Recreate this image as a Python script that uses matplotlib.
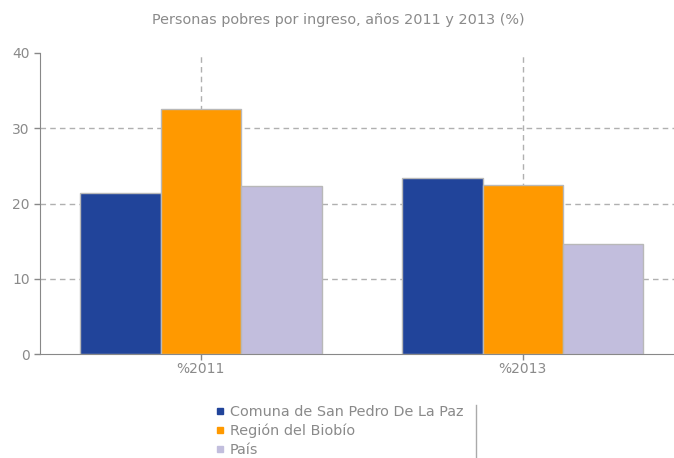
import numpy as np
import matplotlib.pyplot as plt
from matplotlib.lines import Line2D

# data
categories = ["%2011", "%2013"]
series = ["Comuna de San Pedro De La Paz", "Región del Biobío", "País"]
comuna = [21.4, 23.4]
region = [32.5, 22.4]
pais = [22.3, 14.6]
colors = ["#21449A", "#FF9900", "#C2BEDD"]
yticks = [0, 10, 20, 30, 40]

txt = "#8a8a8a"
fig = plt.figure(figsize=(6.74, 4.58), dpi=100)
ax = fig.add_axes([40 / 674, 104 / 458, 634 / 674, 301 / 458])

x = np.arange(len(categories))
w = 0.25
for i, (vals, c) in enumerate(zip([comuna, region, pais], colors)):
    ax.bar(x + (i - 1) * w, vals, w, color=c, edgecolor="#b8b8b8", linewidth=1, zorder=3)

# dashed grid (no line on top value)
for t in yticks[1:-1]:
    ax.axhline(t, color="#b0b0b0", ls=(0, (4, 3)), lw=1, zorder=1)
for xi in x:
    ax.axvline(xi, color="#b0b0b0", ls=(0, (4, 3)), lw=1, zorder=1)

ax.set_xlim(-0.5, 1.47)
ax.set_ylim(0, 40)
ax.set_yticks(yticks)
ax.set_xticks(x)
ax.set_xticklabels(categories)
ax.tick_params(colors="#888888", labelcolor=txt, labelsize=10, length=4, width=1)
ax.tick_params(axis="x", pad=2)
for s in ["top", "right"]:
    ax.spines[s].set_visible(False)
for s in ["left", "bottom"]:
    ax.spines[s].set_color("#888888")

fig.text(338 / 674, 1 - 20 / 458, "Personas pobres por ingreso, años 2011 y 2013 (%)",
         ha="center", va="center", color=txt, fontsize=10.4)

handles = [Line2D([], [], marker="s", ls="", color=c, markersize=4) for c in colors]
leg = fig.legend(handles, series, loc="upper left", bbox_to_anchor=(208 / 674, 1 - 398 / 458),
                 frameon=False, fontsize=10.4, handlelength=0.6, handletextpad=0.4,
                 labelspacing=0.32, borderpad=0)
for t in leg.get_texts():
    t.set_color(txt)
fig.add_artist(Line2D([476 / 674, 476 / 674], [0, 1 - 405 / 458], color="#aaaaaa", lw=1))

plt.savefig("out.png", dpi=100)
